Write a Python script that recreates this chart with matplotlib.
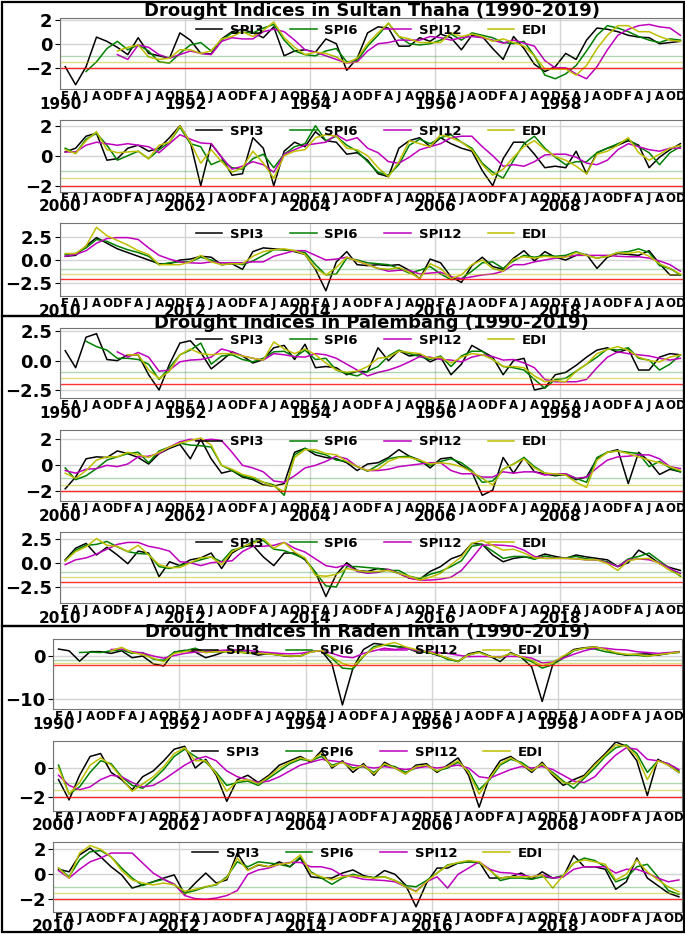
import numpy as np
import matplotlib
matplotlib.use("agg")
import matplotlib.pyplot as plt
from matplotlib.ticker import MultipleLocator

plt.rcParams['font.family'] = ['DejaVu Sans']
plt.rcParams['font.weight'] = 'bold'

nan = np.nan

# amostras bimestrais: F, A, J, A, O, D de cada ano (indice do mes 1, 3, ..., 119)
meses = np.arange(1, 120, 2)
letras_mes = ['F', 'A', 'J', 'A', 'O', 'D']
nomes = ['SPI3', 'SPI6', 'SPI12', 'EDI']
cores = ['k', 'g', 'm', 'y']
estacoes = ['Sultan Thaha', 'Palembang', 'Raden Intan']
decadas = [1990, 2000, 2010]

############ Sultan Thaha
st90_spi3 = [-1.9, -3.4, -1.9, 0.55, 0.2, -0.3,
             -0.9, 0.5, -0.8, -1.0, -1.2, 0.9,
             0.3, -0.8, -0.85, 0.4, 1.0, 1.2,
             0.9, 0.5, 1.4, -1.0, -0.6, -0.5,
             -0.7, 0.4, 0.0, -2.2, -1.2, 0.9,
             1.4, 1.3, -0.2, -0.2, 0.5, 0.2,
             0.8, 0.5, -0.5, 0.7, 0.6, -0.4,
             -1.3, 0.6, -0.4, -1.7, -2.3, -1.9,
             -0.8, -1.3, 0.3, 1.3, 1.2, 1.0,
             0.7, 0.55, 0.5, 0.0, 0.1, 0.2]
st90_spi6 = [nan, nan, -2.3, -1.5, -0.4, 0.2,
             -0.5, -0.1, -0.6, -1.5, -1.6, -0.8,
             -0.1, 0.1, -0.6, 0.3, 0.9, 0.95,
             0.9, 1.3, 1.6, 0.3, -0.6, -0.9,
             -1.0, -0.6, -0.4, -1.5, -1.4, -0.2,
             0.7, 1.7, 0.6, 0.0, -0.1, 0.0,
             0.3, 0.8, 0.3, 0.9, 0.7, 0.5,
             0.1, 0.0, 0.2, -1.0, -2.6, -2.9,
             -2.5, -1.8, -0.6, 0.7, 1.5, 1.3,
             1.0, 0.6, 0.3, 0.1, 0.4, 0.3]
st90_spi12 = [nan, nan, nan, nan, nan, -0.9,
              -1.3, -0.1, -0.3, -0.9, -1.2, -0.9,
              -0.6, -0.8, -0.9, 0.2, 0.5, 0.4,
              0.4, 1.0, 1.2, 1.0, 0.3, -0.5,
              -0.7, -1.0, -1.3, -1.6, -1.5, -0.6,
              0.0, 0.1, 0.3, 0.3, 0.3, 0.6,
              0.5, 0.3, 0.5, 0.6, 0.5, 0.3,
              0.05, 0.3, 0.05, -0.2, -1.4, -2.0,
              -2.0, -2.5, -2.9, -1.9, -0.5, 0.7,
              1.2, 1.5, 1.6, 1.4, 1.3, 0.7]
st90_edi = [nan, nan, nan, nan, nan, -0.6,
            -0.3, -0.1, -1.1, -1.3, -1.2, -0.5,
            -0.5, -0.8, -0.6, 0.4, 0.6, 1.0,
            0.6, 1.1, 1.8, 0.5, -0.3, -0.9,
            -0.7, -0.8, -1.1, -1.6, -1.2, 0.0,
            0.9, 1.7, 0.6, 0.4, 0.1, 0.1,
            0.1, 0.9, 0.6, 0.8, 0.6, 0.2,
            0.4, 0.1, -0.2, -1.0, -2.1, -2.1,
            -2.1, -2.6, -1.8, -0.4, 0.7, 1.5,
            1.5, 1.0, 1.0, 0.6, 0.3, 0.2]

st00_spi3 = [0.25, 0.5, 1.3, 1.5, -0.3, -0.2,
             0.5, 0.7, 0.3, 0.5, 1.2, 2.0,
             0.9, -2.0, 0.8, -0.1, -1.3, -1.2,
             1.2, 0.5, -2.0, 0.3, 0.9, 0.6,
             1.6, 1.0, 0.9, 0.1, 0.2, -0.3,
             -1.2, -1.4, 0.5, 1.0, 1.2, 0.6,
             1.2, 0.8, 0.5, 0.3, -1.0, -2.0,
             -0.2, 0.9, 0.9, 0.1, -0.8, -0.7,
             -0.8, 0.3, -1.2, 0.2, 0.5, 0.7,
             1.0, 0.7, -0.8, -0.1, 0.4, 0.8]
st00_spi6 = [0.5, 0.15, 1.1, 1.5, 0.7, -0.3,
             0.0, 0.3, -0.2, 0.4, 0.9, 1.9,
             0.8, 0.6, -0.6, -0.3, -0.8, -0.9,
             -0.2, 0.1, -0.8, 0.1, 0.6, 0.8,
             2.0, 1.0, 1.3, 0.7, 0.3, -0.4,
             -1.1, -1.3, -0.6, 0.7, 1.1, 0.8,
             1.2, 1.4, 0.9, 0.5, -0.5, -1.1,
             -1.5, -0.3, 0.8, 1.3, 0.5, -0.1,
             -0.6, -0.4, -0.4, 0.2, 0.5, 0.8,
             1.1, 0.6, 0.2, -0.6, 0.2, 0.6]
st00_spi12 = [0.25, 0.25, 0.7, 0.9, 0.8, 0.7,
              0.8, 0.7, 0.6, 0.2, 0.8, 1.4,
              1.1, 0.85, 0.8, -0.1, -0.9, -0.7,
              -0.4, -0.6, -1.1, 0.1, 0.4, 0.7,
              0.8, 0.9, 1.4, 1.0, 1.2, 0.5,
              0.2, -0.4, -0.5, -0.1, 0.4, 0.6,
              0.8, 1.2, 1.3, 1.3, 0.6, 0.0,
              -0.7, -0.6, -0.7, -0.4, 0.05, 0.1,
              0.1, -0.1, -0.5, -0.6, -0.3, 0.4,
              0.8, 0.6, 0.4, 0.3, 0.5, 0.5]
st00_edi = [0.4, 0.15, 1.0, 1.6, 0.4, 0.2,
            0.25, 0.3, -0.2, 0.7, 0.9, 2.0,
            0.9, -0.5, 0.4, -0.4, -1.1, -0.8,
            0.3, -0.5, -1.5, 0.0, 0.3, 0.4,
            1.2, 1.4, 1.3, 0.5, 0.4, 0.0,
            -0.8, -1.4, -0.4, 1.0, 0.8, 0.6,
            1.4, 1.2, 0.9, 0.4, -0.6, -1.3,
            -0.9, -0.1, 0.6, 1.0, 0.4, -0.05,
            -0.3, -0.7, -1.2, 0.1, 0.3, 0.7,
            1.2, 0.2, -0.3, 0.1, 0.5, 0.7]

st10_spi3 = [0.4, 0.5, 1.5, 2.4, 1.8, 1.2,
             0.8, 0.4, 0.0, -0.4, -0.4, 0.0,
             0.1, 0.4, 0.3, -0.5, -0.4, -1.0,
             0.9, 1.3, 1.2, 1.1, 0.9, 0.6,
             -1.0, -3.3, -0.2, 0.9, -0.5, -0.6,
             -0.5, -0.6, -0.5, -1.1, -2.0, 0.1,
             -0.3, -1.8, -2.4, -0.6, 0.3, -0.7,
             -1.0, 0.2, 1.0, -0.1, 0.9, 0.3,
             0.0, 0.5, 0.6, -0.9, 0.3, 0.7,
             0.6, 0.5, 1.0, -0.4, -1.6, -1.6]
st10_spi6 = [0.6, 0.7, 1.3, 2.2, 2.0, 1.5,
             1.1, 0.8, 0.4, -0.5, -0.3, -0.2,
             -0.2, 0.3, 0.0, -0.5, -0.3, -0.5,
             -0.1, 0.5, 1.1, 1.1, 1.0, 0.8,
             -0.5, -1.6, -1.5, 0.2, 0.0, -0.3,
             -0.4, -0.5, -0.9, -1.4, -1.1, -0.7,
             -1.5, -2.1, -2.0, -1.2, -0.3, -0.2,
             -0.9, -0.1, 0.5, 0.3, 0.5, 0.4,
             0.5, 0.9, 0.5, 0.2, 0.4, 0.8,
             0.9, 1.2, 0.8, -0.6, -0.9, -1.6]
st10_spi12 = [0.4, 0.6, 1.0, 1.8, 2.3, 2.4,
              2.4, 2.2, 1.3, 0.5, 0.1, -0.2,
              -0.3, -0.35, -0.2, -0.3, -0.3, -0.3,
              -0.2, -0.2, 0.4, 0.7, 1.0, 1.0,
              0.5, 0.0, 0.1, 0.3, -0.1, -0.5,
              -0.9, -1.2, -1.1, -1.1, -1.5, -1.4,
              -1.3, -1.8, -2.0, -1.8, -1.6, -1.5,
              -1.2, -0.5, -0.5, -0.2, 0.0, 0.2,
              0.35, 0.5, 0.5, 0.5, 0.5, 0.4,
              0.35, 0.35, 0.2, -0.1, -0.5, -1.2]
st10_edi = [0.7, 0.7, 1.5, 3.5, 2.6, 2.1,
            1.6, 1.0, 0.6, -0.5, -0.5, -0.5,
            -0.2, 0.5, -0.2, -0.5, -0.4, -0.4,
            0.4, 0.9, 1.1, 1.2, 1.0, 0.6,
            -0.9, -1.6, -0.8, 0.3, -0.1, -0.5,
            -0.9, -1.0, -0.8, -1.3, -2.0, -0.4,
            -0.9, -2.0, -1.6, -0.5, 0.0, -0.9,
            -1.2, 0.1, 0.35, 0.2, 0.4, 0.3,
            0.3, 0.8, 0.5, 0.2, 0.4, 0.8,
            0.7, 0.9, 0.4, -0.4, -0.9, -1.5]

############ Palembang
pl90_spi3 = [0.85, -0.6, 2.0, 2.3, 0.1, 0.0,
             0.5, 0.5, -1.2, -2.5, -0.3, 1.5,
             1.7, 0.7, -0.7, 0.0, 0.75, 0.4,
             -0.2, 0.1, 1.1, 1.3, 0.1, 1.4,
             -0.6, -0.5, -0.6, -1.2, -0.9, -0.95,
             1.1, 0.0, 0.85, 0.4, 0.5, -0.1,
             0.3, -1.2, -0.3, 1.3, 0.8, 0.3,
             -1.2, 0.0, 0.2, -2.5, -2.3, -1.2,
             -1.0, -0.4, 0.3, 0.9, 1.1, 0.7,
             1.0, -0.8, -0.8, 0.3, 0.6, 0.5]
pl90_spi6 = [nan, nan, 1.65, 1.2, 0.9, 0.2,
             0.2, 0.1, -0.3, -1.6, -0.6, 0.5,
             0.9, 1.5, -0.3, 0.4, 0.5, 0.1,
             -0.1, 0.2, 0.75, 0.8, 0.3, 0.9,
             0.1, 0.2, -0.8, -1.1, -1.3, -0.9,
             -0.5, 0.4, 0.9, 0.6, 0.35, 0.1,
             0.4, -0.5, 0.4, 0.8, 0.8, 0.1,
             -0.5, -0.6, -0.8, -1.6, -2.35, -1.6,
             -1.5, -0.9, -0.3, 0.3, 1.0, 0.9,
             1.1, 0.2, 0.05, -0.8, -0.3, 0.5]
pl90_spi12 = [nan, nan, nan, nan, nan, 0.75,
              0.3, 0.7, 0.3, -0.9, -0.8, -0.1,
              0.05, 0.1, 0.3, 1.0, 0.75, 0.4,
              0.2, 0.05, 0.6, 0.5, 0.35, 0.3,
              0.6, 0.5, 0.2, -0.3, -0.8, -1.3,
              -1.0, -0.8, -0.5, -0.1, 0.35, 0.3,
              0.1, 0.05, -0.1, 0.3, 0.5, 0.35,
              0.05, 0.1, -0.2, -0.6, -1.6, -1.8,
              -1.8, -1.8, -1.6, -0.6, 0.3, 0.75,
              0.6, 0.5, 0.4, 0.2, 0.05, 0.2]
pl90_edi = [nan, nan, nan, nan, nan, nan,
            0.5, 0.5, -0.8, -1.5, -0.9, 0.5,
            1.0, 0.6, 0.5, 0.6, 0.6, 0.4,
            0.2, 0.05, 1.6, 1.0, 0.6, 1.0,
            0.5, -0.2, -0.8, -1.0, -0.9, -0.5,
            0.2, 0.3, 0.8, 0.7, 0.6, 0.2,
            0.3, -0.2, 0.3, 0.6, 0.5, 0.1,
            -0.5, -0.5, -0.6, -1.3, -1.8, -1.7,
            -1.8, -0.9, -0.3, 0.6, 0.95, 1.2,
            0.9, 0.3, 0.0, -0.1, 0.3, 0.5]

pl00_spi3 = [-1.8, -0.9, 0.5, 0.65, 0.6, 1.1,
             0.9, 0.6, 0.1, 0.9, 1.3, 1.6,
             0.5, 2.0, 0.5, -0.6, -0.4, -0.9,
             -1.1, -1.5, -1.6, -1.4, 1.0, 1.3,
             0.8, 0.6, 0.5, 0.2, -0.4, 0.1,
             0.2, 0.6, 1.2, 0.7, 0.4, -0.2,
             0.5, 0.6, 0.0, -0.5, -2.3, -1.9,
             0.6, -0.6, 0.6, -0.5, -0.65, -0.8,
             -0.7, -1.1, -0.9, 0.5, 1.0, 1.2,
             -1.4, 1.0, 0.3, -0.7, -0.3, -0.5]
pl00_spi6 = [-0.2, -1.1, -0.8, -0.25, 0.4, 0.65,
             0.9, 1.0, 0.2, 1.1, 1.4, 1.7,
             1.55, 1.5, 1.4, 0.0, -0.4, -0.8,
             -1.0, -1.3, -1.5, -2.3, 0.8, 1.3,
             1.0, 0.8, 0.4, 0.3, -0.1, -0.45,
             0.0, 0.5, 0.65, 0.7, 0.3, 0.0,
             0.3, 0.5, 0.2, -0.4, -1.3, -1.2,
             -0.3, 0.1, 0.6, -0.1, -0.6, -0.75,
             -0.65, -1.0, -1.3, 0.6, 1.0, 1.1,
             1.0, 0.9, -0.1, 0.3, -0.2, -0.5]
pl00_spi12 = [-0.4, -0.6, -0.3, -0.25, 0.0, -0.1,
              0.1, 0.65, 0.7, 0.9, 1.4, 1.8,
              2.0, 1.9, 2.0, 1.9, 1.0, 0.0,
              -0.2, -0.5, -1.2, -1.3, -0.8, -0.2,
              0.0, 0.3, 0.7, 0.5, -0.1, -0.4,
              -0.4, -0.3, -0.1, 0.0, 0.1, 0.2,
              0.2, -0.4, -0.65, -0.65, -0.9, -0.9,
              -0.5, -0.6, -0.5, -0.5, -0.75, -0.65,
              -0.65, -1.0, -0.9, -0.2, 0.4, 0.65,
              0.7, 0.8, 0.8, 0.5, -0.1, -0.25]
pl00_edi = [-0.6, -1.0, -0.4, 0.4, 0.65, 0.65,
            1.0, 0.8, 0.6, 1.0, 1.4, 1.7,
            1.9, 2.1, 1.55, 0.0, -0.3, -0.7,
            -0.9, -1.3, -1.6, -2.0, 0.6, 1.2,
            1.2, 0.9, 0.8, 0.3, -0.1, -0.4,
            -0.3, 0.3, 0.6, 0.6, 0.4, 0.1,
            0.2, 0.1, -0.1, -0.5, -1.0, -1.5,
            -0.3, 0.1, 0.5, -0.2, -0.6, -0.65,
            -0.75, -1.3, -1.7, 0.4, 1.0, 1.1,
            0.9, 0.65, 0.4, 0.2, -0.1, -0.4]

pl10_spi3 = [0.3, 1.5, 2.0, 0.8, 1.6, 0.8,
             -0.1, 1.2, 1.0, -1.45, 0.1, -0.3,
             0.3, 0.5, 1.0, -0.6, 1.0, 1.65,
             1.8, 0.6, -0.3, 1.0, 1.0, 0.3,
             -1.0, -3.5, -1.2, 0.0, -0.8, -0.9,
             -0.6, -0.7, -1.1, -1.6, -1.7, -0.9,
             -0.4, 0.4, 0.8, 2.0, 1.9, 0.8,
             0.1, 0.45, 0.6, 0.5, 0.9, 0.65,
             0.45, 0.8, 0.6, 0.45, 0.3, -0.4,
             0.0, 1.3, 0.7, -0.1, -0.5, -0.8]
pl10_spi6 = [0.2, 1.3, 1.8, 1.9, 2.2, 1.65,
             1.15, 0.95, 0.9, -0.4, -0.6, -0.3,
             0.0, 0.3, 0.6, 0.1, 1.3, 1.55,
             2.2, 2.3, 1.4, 1.25, 0.85, 0.4,
             -1.0, -2.4, -2.5, -0.4, -0.4, -0.5,
             -0.6, -0.8, -0.8, -1.4, -1.65, -1.2,
             -0.9, -0.4, 0.2, 1.7, 1.9, 1.2,
             0.45, 0.65, 0.65, 0.35, 0.7, 0.5,
             0.5, 0.65, 0.4, 0.3, 0.1, -0.4,
             0.4, 0.65, 1.0, 0.2, -0.6, -1.4]
pl10_spi12 = [-0.2, 0.3, 0.5, 0.9, 1.4, 1.9,
              2.1, 2.1, 1.7, 1.5, 1.2, 0.1,
              0.0, -0.3, 0.0, 0.1, 0.2, 1.15,
              1.7, 1.7, 1.8, 2.1, 1.5, 1.1,
              0.4, -0.3, -0.5, -0.2, -0.9, -1.1,
              -1.0, -0.7, -1.1, -1.6, -1.8, -1.8,
              -1.7, -1.5, -0.8, 0.45, 1.8, 1.85,
              1.8, 1.7, 1.3, 0.65, 0.45, 0.45,
              0.45, 0.4, 0.3, 0.3, 0.0, -0.4,
              0.3, 0.4, 0.3, 0.0, -0.6, -1.1]
pl10_edi = [0.2, 1.15, 1.65, 2.5, 1.8, 1.7,
            1.15, 1.8, 0.8, -0.2, -0.5, -0.5,
            0.0, 0.5, 0.6, -0.2, 1.15, 1.7,
            2.0, 2.5, 1.5, 2.1, 1.1, 0.5,
            -1.3, -1.4, -1.2, -0.6, -0.8, -0.95,
            -0.9, -0.8, -1.1, -1.4, -1.8, -1.5,
            -1.1, -0.2, 0.6, 2.0, 2.3, 1.8,
            1.3, 1.4, 1.0, 0.5, 0.45, 0.45,
            0.45, 0.4, 0.3, 0.3, -0.1, -0.8,
            0.2, 0.4, 0.45, -0.1, -0.8, -1.3]

############ Raden Intan
ri90_spi3 = [1.6, 1.2, -1.2, 1.0, 1.0, 0.6,
             1.2, -0.4, 0.0, -1.8, -2.3, 0.9,
             1.3, 0.9, -0.4, 0.3, 1.2, 1.0,
             0.8, 0.2, 0.6, 0.2, -0.1, 0.0,
             1.0, 1.2, -1.8, -11.3, -2.8, 1.5,
             2.9, 2.6, 2.2, 2.0, 1.0, 1.0,
             0.2, -0.5, -1.3, 0.5, 1.0, 0.0,
             -1.3, 0.8, -0.3, -2.5, -10.5, -2.0,
             -0.2, 1.5, 1.9, 2.1, 1.6, 0.6,
             0.2, 0.4, 0.5, 0.2, 0.6, 1.0]
ri90_spi6 = [nan, nan, 0.8, 0.9, 0.8, 1.2,
             1.4, 0.6, 0.8, -0.7, -1.0, 0.9,
             1.2, 1.8, 0.8, 1.0, 1.0, 1.0,
             0.6, 0.7, 0.5, 0.2, 0.0, 0.0,
             1.0, 1.2, -0.5, -2.8, -3.0, -0.1,
             2.2, 2.5, 2.3, 1.8, 1.2, 0.8,
             0.4, -0.8, -1.2, 0.2, 0.9, -0.1,
             -0.4, 0.6, -0.3, -1.3, -2.8, -2.0,
             -0.5, 1.2, 1.8, 1.6, 1.0, 0.6,
             0.3, 0.2, -0.1, 0.4, 0.6, 0.8]
ri90_spi12 = [nan, nan, nan, nan, nan, 1.5,
              1.6, 1.0, 0.7, 0.0, -0.5, 0.1,
              0.6, 0.9, 1.0, 1.2, 1.4, 1.4,
              1.3, 1.0, 0.8, 0.6, 0.5, 0.6,
              1.0, 1.2, 0.6, -0.15, -0.4, 0.6,
              1.2, 1.8, 1.5, 1.8, 1.3, 1.0,
              0.8, 0.6, 0.2, -0.15, -0.1, -0.15,
              -0.15, -0.1, -0.15, -0.5, -1.6, -1.4,
              -0.5, 0.4, 1.2, 1.8, 1.8, 1.5,
              1.4, 1.0, 0.8, 0.6, 0.8, 0.9]
ri90_edi = [nan, nan, nan, nan, nan, 1.2,
            2.0, 0.8, 0.3, -0.5, -1.3, 0.6,
            1.0, 1.4, 0.8, 1.0, 1.0, 0.9,
            0.7, 0.6, 0.5, 0.2, 0.0, 0.0,
            0.9, 1.3, -0.3, -1.7, -2.5, 0.0,
            1.8, 2.6, 3.1, 2.1, 1.5, 1.0,
            0.4, -0.5, -1.2, 0.3, 0.8, -0.1,
            -0.3, 0.6, -0.2, -1.0, -2.3, -1.5,
            0.0, 1.3, 1.8, 2.1, 1.5, 0.8,
            0.4, 0.4, 0.0, 0.3, 0.6, 0.9]

ri00_spi3 = [-0.8, -2.2, -0.5, 0.8, 1.0, -0.3,
             -0.8, -1.5, -0.6, -0.2, 0.5, 1.3,
             1.5, 0.0, 0.6, -0.5, -2.3, -0.8,
             -0.5, -1.0, -0.5, 0.2, 0.5, 0.8,
             0.4, 1.2, 0.0, 0.5, -0.3, 0.3,
             -0.5, 0.4, 0.0, -0.4, 0.2, 0.3,
             -0.3, 0.2, 0.7, -0.5, -2.7, -0.6,
             0.5, 0.8, 0.3, -0.3, 0.4, -0.5,
             -1.2, -0.8, -0.5, 0.3, 1.0, 1.8,
             1.5, 0.5, -1.9, 0.6, 0.2, -0.3]
ri00_spi6 = [0.2, -1.8, -1.3, -0.3, 0.5, 0.3,
             -0.6, -1.2, -1.4, -0.8, -0.1, 0.8,
             1.3, 0.8, 0.4, -0.3, -1.2, -1.0,
             -0.9, -1.2, -0.7, -0.2, 0.3, 0.6,
             0.5, 0.8, 0.2, 0.4, 0.0, 0.1,
             -0.3, 0.2, 0.1, -0.3, 0.0, 0.2,
             -0.2, 0.0, 0.4, -0.2, -1.5, -0.8,
             0.2, 0.6, 0.4, -0.1, 0.2, -0.3,
             -0.9, -1.4, -0.7, 0.0, 0.8, 1.4,
             1.6, 1.0, -0.3, 0.5, 0.3, -0.2]
ri00_spi12 = [-0.5, -1.2, -1.5, -1.3, -0.8, -0.5,
              -0.6, -1.0, -1.3, -1.2, -0.8, -0.3,
              0.2, 0.6, 0.8, 0.5, -0.2, -0.6,
              -0.8, -1.0, -0.9, -0.6, -0.2, 0.2,
              0.4, 0.6, 0.5, 0.4, 0.2, 0.1,
              0.0, 0.1, 0.0, -0.1, 0.0, 0.1,
              0.0, 0.1, 0.2, 0.0, -0.6, -0.7,
              -0.4, -0.1, 0.1, 0.0, 0.1, -0.1,
              -0.5, -0.9, -1.0, -0.6, 0.2, 0.9,
              1.4, 1.3, 0.6, 0.5, 0.3, -0.1]
ri00_edi = [0.0, -1.8, -1.0, 0.2, 0.7, 0.2,
            -0.7, -1.6, -1.1, -0.6, 0.1, 1.0,
            1.4, 0.5, 0.5, -0.4, -1.6, -0.9,
            -0.8, -1.1, -0.6, 0.0, 0.4, 0.7,
            0.5, 1.0, 0.1, 0.4, -0.1, 0.2,
            -0.4, 0.3, 0.0, -0.4, 0.1, 0.2,
            -0.2, 0.1, 0.5, -0.3, -1.8, -0.7,
            0.3, 0.7, 0.3, -0.2, 0.3, -0.4,
            -1.0, -1.1, -0.6, 0.2, 0.9, 1.6,
            1.5, 0.8, -0.8, 0.5, 0.2, -0.3]

ri10_spi3 = [0.4, 0.2, 1.55, 2.1, 1.4, 0.6,
             -0.05, -1.1, -0.85, -0.6, -0.3, -0.05,
             -1.6, -0.7, 0.1, -0.7, -0.45, 1.7,
             0.35, 0.75, 0.6, 1.0, 0.6, 1.3,
             -0.2, -0.3, -0.3, 0.1, 0.35, -0.1,
             -0.3, 0.3, 0.0, -0.85, -2.6, -0.7,
             0.5, 0.5, 0.9, 1.0, 1.0, -0.3,
             -0.3, -0.2, 0.1, -0.4, 0.2, -0.3,
             -0.2, 1.5, 0.6, 0.6, 0.4, -1.2,
             -0.6, 1.3, -0.3, -0.9, -1.5, -1.8]
ri10_spi6 = [0.5, -0.2, 1.15, 1.8, 1.9, 1.4,
             0.5, -0.3, -0.9, -0.6, -0.4, -0.8,
             -1.5, -1.3, -1.0, -0.85, -0.2, 1.0,
             0.6, 1.0, 0.9, 0.8, 0.6, 1.4,
             0.2, -0.3, -0.8, -0.3, 0.0, -0.2,
             -0.25, -0.2, -0.5, -0.9, -1.0, -0.5,
             0.1, 0.75, 0.9, 1.0, 0.9, 0.4,
             -0.5, -0.3, -0.3, -0.4, -0.2, -0.3,
             -0.1, 0.9, 1.3, 1.1, 0.6, -0.6,
             -0.3, 0.6, 0.8, -0.2, -1.3, -1.6]
ri10_spi12 = [0.3, -0.3, 0.4, 1.0, 1.3, 1.7,
              1.7, 1.7, 0.9, 0.1, -0.4, -0.8,
              -1.7, -1.95, -2.0, -1.9, -1.7, -1.3,
              0.0, 0.35, 0.5, 0.8, 0.95, 0.95,
              0.6, 0.6, 0.4, -0.1, -0.2, -0.4,
              -0.45, -0.5, -0.6, -1.0, -1.35, -0.6,
              -0.2, -1.1, 0.0, 0.5, 1.0, 0.4,
              0.15, 0.1, -0.05, -0.2, -0.05, -0.3,
              -0.2, 0.4, 0.6, 0.6, 0.6, 0.1,
              0.4, 0.4, 0.1, -0.3, -0.6, -0.45]
ri10_edi = [0.5, -0.3, 1.7, 2.3, 2.0, 1.4,
            0.3, -0.45, -0.7, -0.85, -0.7, -0.85,
            -1.35, -1.2, -1.0, -0.8, -0.3, 1.3,
            0.3, 0.8, 0.6, 0.8, 0.9, 1.55,
            0.1, -0.2, -0.45, -0.2, -0.1, -0.2,
            -0.3, -0.2, -0.5, -1.0, -1.4, -0.6,
            0.1, 0.7, 0.95, 1.1, 1.0, 0.3,
            -0.3, -0.2, -0.2, -0.2, -0.05, -1.1,
            -0.1, 0.9, 1.15, 1.0, 0.8, -0.45,
            0.0, 1.15, 0.2, -0.45, -1.0, -1.4]

dados = [[(st90_spi3, st90_spi6, st90_spi12, st90_edi),
          (st00_spi3, st00_spi6, st00_spi12, st00_edi),
          (st10_spi3, st10_spi6, st10_spi12, st10_edi)],
         [(pl90_spi3, pl90_spi6, pl90_spi12, pl90_edi),
          (pl00_spi3, pl00_spi6, pl00_spi12, pl00_edi),
          (pl10_spi3, pl10_spi6, pl10_spi12, pl10_edi)],
         [(ri90_spi3, ri90_spi6, ri90_spi12, ri90_edi),
          (ri00_spi3, ri00_spi6, ri00_spi12, ri00_edi),
          (ri10_spi3, ri10_spi6, ri10_spi12, ri10_edi)]]

# limites verticais e passo dos ticks de cada painel
limites = [[(-3.75, 2.1), (-2.4, 2.4), (-3.9, 4.0)],
           [(-3.2, 2.75), (-2.75, 2.7), (-4.2, 3.2)],
           [(-12.3, 3.9), (-2.93, 1.9), (-3.0, 2.6)]]
passos = [[2, 2, 2.5], [2.5, 2, 2.5], [10, 2, 2]]

# posicao dos eixos em pixels (esq, dir, topo, base)
W, H = 685.0, 934.0
caixas = [[(60, 683, 18.4, 89), (60, 683, 119.7, 191.7), (60, 683, 222.7, 296.4)],
          [(60, 683, 328.4, 398.2), (60, 683, 430.1, 501.2), (60, 683, 531.8, 603.3)],
          [(53.3, 681.5, 639.1, 709.3), (53.3, 681.5, 740.5, 810.5), (53.3, 681.5, 841.8, 911.8)]]
titulos_y = [11, 323, 632]
molduras = [(2, 316), (316, 626), (626, 932)]

fig = plt.figure(figsize=(6.85, 9.34), dpi=100)


def painel(ax, series, ano0, ylim, passo):
    x = ano0 + meses / 12.0
    for s, c, nome in zip(series, cores, nomes):
        ax.plot(x, s, color=c, lw=1.1, label=nome)
    ax.axhline(-1, color='g', alpha=0.3, lw=1)
    ax.axhline(-1.5, color='y', alpha=0.5, lw=1)
    ax.axhline(-2, color='r', alpha=0.8, lw=1)
    ax.set_xlim(ano0, ano0 + 119.5 / 12.0)
    ax.set_ylim(*ylim)
    ax.yaxis.set_major_locator(MultipleLocator(passo))
    anos = [ano0 + k for k in range(0, 10, 2)]
    ax.set_xticks(anos)
    ax.set_xticklabels([str(a) for a in anos])
    menores = [ano0 + a + m / 12.0 for a in range(10) for m in (1, 3, 5, 7, 9, 11)]
    ax.set_xticks(menores, minor=True)
    ax.set_xticklabels(letras_mes * 10, minor=True)
    ax.tick_params(axis='x', which='major', length=0, pad=5.5, labelsize=11)
    ax.tick_params(axis='x', which='minor', length=0, pad=0.5, labelsize=8.5)
    ax.tick_params(axis='y', labelsize=13, pad=2)
    ax.grid(True, which='major', color='#d4d4d4', lw=1)
    ax.set_axisbelow(True)
    for sp in ax.spines.values():
        sp.set_color('0.45')
    ax.legend(loc='upper center', ncol=4, frameon=False, fontsize=9.5,
              borderaxespad=0.0, handlelength=2.0, columnspacing=2.0,
              handletextpad=0.6)


for g in range(3):
    for p in range(3):
        l, r, t, b = caixas[g][p]
        ax = fig.add_axes([l / W, 1 - b / H, (r - l) / W, (b - t) / H])
        painel(ax, dados[g][p], decadas[p], limites[g][p], passos[g][p])
    l, r = caixas[g][0][0], caixas[g][0][1]
    fig.text((l + r) / 2 / W, 1 - titulos_y[g] / H,
             'Drought Indices in %s (1990-2019)' % estacoes[g],
             ha='center', va='center', fontsize=13, fontweight='bold')
    y0, y1 = molduras[g]
    fig.add_artist(plt.Rectangle((2 / W, 1 - y1 / H), 682 / W, (y1 - y0) / H,
                                 transform=fig.transFigure, fill=False,
                                 lw=1.6, color='k'))

plt.savefig('out.png', dpi=100)
plt.close()
